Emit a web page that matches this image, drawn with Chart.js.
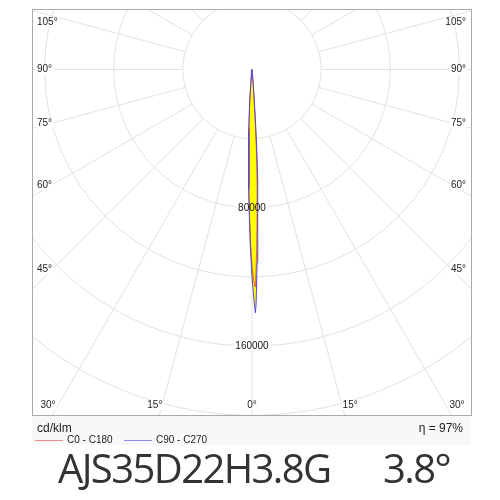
<!DOCTYPE html>
<html>
<head>
<meta charset="utf-8">
<script src="https://cdn.jsdelivr.net/npm/chart.js@4.4.1/dist/chart.umd.min.js"></script>
<style>
  html, body { margin: 0; padding: 0; background: #fff; }
  #wrap { position: relative; width: 500px; height: 500px; overflow: hidden;
          font-family: "Liberation Sans", Arial, sans-serif; color: #222; }
  #chart { position: absolute; left: 0; top: 0; }
  .strip { position: absolute; left: 32px; top: 416px; width: 439px; height: 29px; background: #f8f8f8; }
  .unit { position: absolute; left: 37px; top: 421px; font-size: 12px; line-height: 14px; }
  .eta { position: absolute; right: 37px; top: 421px; font-size: 12px; line-height: 14px; }
  .leg { position: absolute; top: 434px; font-size: 10px; line-height: 12px; white-space: nowrap; }
  .leg i { display: inline-block; width: 28px; border-top: 1px solid; vertical-align: middle; margin-right: 4px; }
  .title { position: absolute; top: 443px; font-family: "Open Sans", sans-serif; font-size: 40px;
           line-height: 50px; letter-spacing: -1.6px; color: #333; white-space: nowrap; }
</style>
</head>
<body>
<div id="wrap">
  <canvas id="chart" width="500" height="500"></canvas>
  <div class="strip"></div>
  <div class="unit">cd/klm</div>
  <div class="eta">η = 97%</div>
  <div class="leg" style="left:35px"><i style="border-color:#f08a8a"></i>C0 - C180</div>
  <div class="leg" style="left:124px"><i style="border-color:#8a8af0"></i>C90 - C270</div>
  <div class="title" style="left:58px">AJS35D22H3.8G</div>
  <div class="title" style="left:383px">3.8°</div>
</div>
<script>
// ============================================================================
// Data (cd/klm against gamma angle, negative gamma = C180 / C270 half)
// ============================================================================

const gammaAngles = [-10, -8, -6, -5, -4, -3, -2.5, -2, -1.5, -1, -0.5, 0, 0.5, 0.8, 1, 1.5, 2, 2.5, 3, 3.5, 4, 5, 6, 8, 10];
const c0c180  = [0, 300, 2800, 8500, 19000, 34000, 43000, 54000, 68000, 84000, 100000, 114000, 123000, 126000, 122000, 104000, 84000, 68000, 52000, 34000, 17000, 5000, 1500, 200, 0];
const c90c270 = [0, 300, 3000, 9000, 20000, 36000, 45000, 56000, 70000, 86000, 104000, 120000, 134000, 141000, 136000, 112000, 92000, 78000, 64000, 44000, 24000, 8000, 2500, 300, 0];

// grid: rings every 40000 cd/klm, spokes every 15 degrees
const ringStep = 40000;
const ringLabels = [80000, 160000];
const angleTicks = [0, 15, 30, 45, 60, 75, 90, 105];
const spokeStep = 15;

const labelFont = '10px "Liberation Sans", Arial, sans-serif';

// ============================================================================
// Helpers
// ============================================================================

const rad = d => d * Math.PI / 180;

function toPoints(values) {
    return values.map((v, i) => ({
        x: v * Math.sin(rad(gammaAngles[i])),
        y: v * Math.cos(rad(gammaAngles[i]))
    }));
}

// ============================================================================
// Polar grid plugin
// ============================================================================

const polarGrid = {
    id: 'polarGrid',
    beforeDraw(chart) {
        const { ctx, chartArea: a, scales: { x, y } } = chart;
        const cx = x.getPixelForValue(0), cy = y.getPixelForValue(0);
        const k = (x.getPixelForValue(ringStep) - cx) / ringStep;

        ctx.save();
        ctx.fillStyle = '#fff';
        ctx.fillRect(0, 0, chart.width, chart.height);
        ctx.beginPath();
        ctx.rect(a.left, a.top, a.right - a.left, a.bottom - a.top);
        ctx.clip();

        ctx.strokeStyle = '#e2e2e2';
        ctx.lineWidth = 1;
        for (let r = ringStep; r <= ringStep * 8; r += ringStep) {
            ctx.beginPath();
            ctx.arc(cx, cy, r * k, 0, Math.PI * 2);
            ctx.stroke();
        }
        for (let g = 0; g < 360; g += spokeStep) {
            const s = Math.sin(rad(g)), c = Math.cos(rad(g));
            ctx.beginPath();
            ctx.moveTo(cx + s * ringStep * k, cy + c * ringStep * k);
            ctx.lineTo(cx + s * 800, cy + c * 800);
            ctx.stroke();
        }

        // gaps in the rings behind the ring values
        ctx.font = labelFont;
        ctx.fillStyle = '#fff';
        ringLabels.forEach(v => {
            const w = ctx.measureText(String(v)).width;
            ctx.fillRect(cx - w / 2 - 2, y.getPixelForValue(v) - 4, w + 4, 9);
        });
        ctx.restore();
    },
    afterDatasetsDraw(chart) {
        const { ctx, chartArea: a, scales: { x, y } } = chart;
        const cx = x.getPixelForValue(0), cy = y.getPixelForValue(0);

        ctx.save();
        ctx.font = labelFont;
        ctx.textBaseline = 'middle';

        // ring values
        ctx.fillStyle = '#111';
        ctx.textAlign = 'center';
        ringLabels.forEach(v => {
            ctx.fillText(String(v), cx, y.getPixelForValue(v) + 1);
        });

        // angle labels
        angleTicks.forEach(g => {
            const label = g + '°';
            const w = ctx.measureText(label).width;
            [-1, 1].forEach(side => {
                if (g === 0 && side < 0) return;
                let tx, ty, align;
                if (g <= 30) {
                    ty = a.bottom - 10;
                    const hit = cx + side * (a.bottom - cy) * Math.tan(rad(g));
                    if (g === 0) { tx = hit; align = 'center'; }
                    else if (side < 0) { tx = Math.max(hit + 3, a.left + 6 + w); align = 'right'; }
                    else { tx = Math.min(hit - 2, a.right - 6 - w); align = 'left'; }
                } else {
                    ty = Math.max(cy + 200 / Math.tan(rad(g)), a.top + 13);
                    if (side < 0) { tx = a.left + 5; align = 'left'; }
                    else { tx = a.right - 5; align = 'right'; }
                }
                const left = align === 'left' ? tx : align === 'right' ? tx - w : tx - w / 2;
                ctx.fillStyle = '#fff';
                ctx.fillRect(left - 1, ty - 5, w + 2, 10);
                ctx.fillStyle = '#222';
                ctx.textAlign = align;
                ctx.fillText(label, tx, ty);
            });
        });
        ctx.restore();
    },
    afterDraw(chart) {
        const { ctx, chartArea: a } = chart;
        ctx.save();
        ctx.strokeStyle = '#a9a9a9';
        ctx.lineWidth = 1;
        ctx.strokeRect(a.left + 0.5, a.top + 0.5, a.right - a.left, a.bottom - a.top);
        ctx.restore();
    }
};

// ============================================================================
// Chart
// ============================================================================

function renderChart() {
    const ctx = document.getElementById('chart');

    new Chart(ctx, {
        type: 'scatter',
        data: {
            datasets: [
                {
                    label: 'C90 - C270',
                    data: toPoints(c90c270),
                    showLine: true,
                    borderColor: 'rgb(80, 70, 235)',
                    backgroundColor: '#ffff00',
                    borderWidth: 1,
                    pointRadius: 0,
                    fill: 'shape'
                },
                {
                    label: 'C0 - C180',
                    data: toPoints(c0c180),
                    showLine: true,
                    borderColor: 'rgba(230, 30, 30, 0.7)',
                    backgroundColor: '#ffff00',
                    borderWidth: 1,
                    pointRadius: 0,
                    fill: 'shape'
                }
            ]
        },
        options: {
            responsive: false,
            animation: false,
            events: [],
            layout: { padding: { left: 32, right: 29, top: 9, bottom: 85 } },
            scales: {
                x: { type: 'linear', display: false, min: -127250, max: 126670 },
                y: { type: 'linear', display: false, reverse: true, min: -35070, max: 200290 }
            },
            plugins: {
                legend: { display: false },
                tooltip: { enabled: false },
                filler: { drawTime: 'beforeDatasetsDraw' }
            }
        },
        plugins: [polarGrid]
    });
}

document.addEventListener('DOMContentLoaded', renderChart);
</script>
</body>
</html>
